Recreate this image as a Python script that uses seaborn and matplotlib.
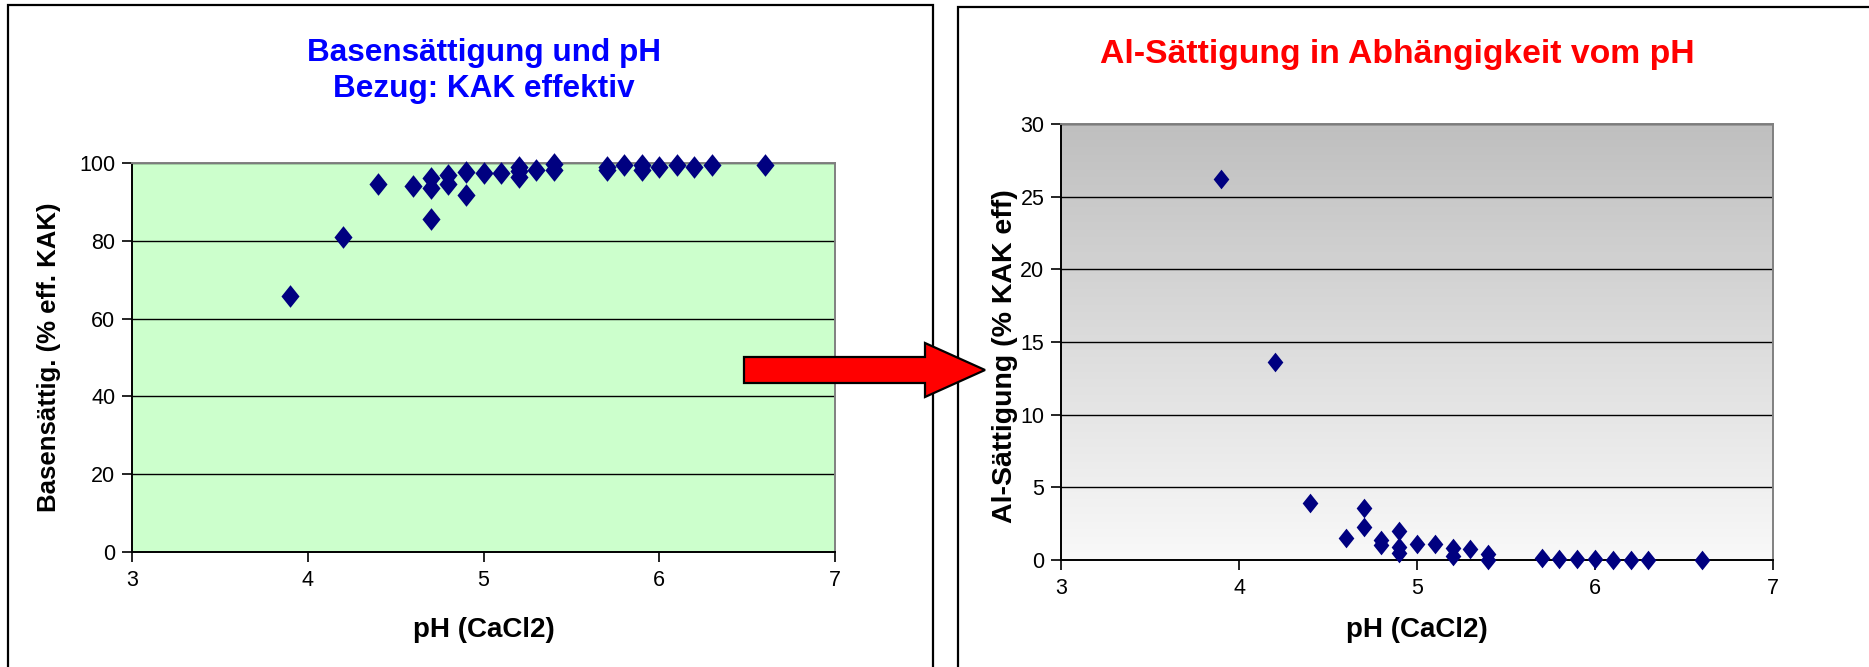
import numpy as np
import pandas as pd
import matplotlib
matplotlib.use("Agg")
import matplotlib.pyplot as plt
import seaborn as sns
from matplotlib.patches import Polygon, Rectangle
from matplotlib.colors import LinearSegmentedColormap

# ---------------- data ----------------
ph_base = [3.9, 4.2, 4.4, 4.6, 4.7, 4.7, 4.7, 4.8, 4.8, 4.9, 4.9, 5.0, 5.1,
           5.2, 5.2, 5.2, 5.3, 5.4, 5.4, 5.7, 5.7, 5.8, 5.9, 5.9, 6.0, 6.1,
           6.2, 6.3, 6.6]
base_sat = [65.7, 80.9, 94.6, 94.2, 96.1, 93.6, 85.6, 97.0, 94.6, 97.6, 91.8,
            97.4, 97.4, 99.1, 97.9, 96.4, 98.1, 99.7, 98.1, 99.1, 98.1, 99.6,
            99.4, 98.3, 99.1, 99.6, 99.1, 99.6, 99.6]

ph_al = [3.9, 4.2, 4.4, 4.6, 4.7, 4.7, 4.8, 4.8, 4.9, 4.9, 4.9, 5.0, 5.1,
         5.2, 5.2, 5.3, 5.4, 5.4, 5.7, 5.8, 5.9, 6.0, 6.1, 6.2, 6.3, 6.6]
al_sat = [26.2, 13.6, 3.9, 1.5, 3.6, 2.3, 1.4, 1.0, 2.0, 0.9, 0.5, 1.1, 1.1,
          0.8, 0.3, 0.75, 0.4, 0.0, 0.15, 0.1, 0.1, 0.05, 0.0, 0.0, 0.0, 0.0]

x_ticks = [3, 4, 5, 6, 7]
base_ticks = [0, 20, 40, 60, 80, 100]
al_ticks = [0, 5, 10, 15, 20, 25, 30]

title_left = "Basensättigung und pH\nBezug: KAK effektiv"
title_right = "Al-Sättigung in Abhängigkeit vom pH"
ylabel_left = "Basensättig. (% eff. KAK)"
ylabel_right = "Al-Sättigung (% KAK eff)"
xlabel = "pH (CaCl2)"

# ---------------- style ----------------
sns.set_theme(style="white")
plt.rcParams['font.family'] = ['Liberation Sans', 'DejaVu Sans']

W, H = 1869, 667
fig = plt.figure(figsize=(W / 100, H / 100), dpi=100)
fig.patch.set_facecolor("white")


def fy(py):
    return 1 - py / H


# panel frames
fig.patches.append(Rectangle((8 / W, fy(720)), (933 - 8) / W, (720 - 5) / H,
                             transform=fig.transFigure, fill=False,
                             edgecolor="black", lw=1.6, zorder=-1))
fig.patches.append(Rectangle((958 / W, fy(720)), (1950 - 958) / W, (720 - 7) / H,
                             transform=fig.transFigure, fill=False,
                             edgecolor="black", lw=1.6, zorder=-1))

ax1 = fig.add_axes([132 / W, fy(552), (835 - 132) / W, (552 - 163) / H])
ax2 = fig.add_axes([1061 / W, fy(560), (1773 - 1061) / W, (560 - 124) / H])

diamond = [(0, 1), (0.8, 0), (0, -1), (-0.8, 0)]
navy = "#000080"

df1 = pd.DataFrame({"ph": ph_base, "val": base_sat})
df2 = pd.DataFrame({"ph": ph_al, "val": al_sat})

sns.scatterplot(data=df1, x="ph", y="val", ax=ax1, marker=diamond, s=265,
                color=navy, linewidth=0, zorder=3, clip_on=False)
sns.scatterplot(data=df2, x="ph", y="val", ax=ax2, marker=diamond, s=200,
                color=navy, linewidth=0, zorder=3, clip_on=False)

# backgrounds
ax1.set_facecolor("#CCFFCC")
ax2.set_facecolor("#F8F8F8")
grad = np.linspace(0, 1, 256).reshape(-1, 1)
cmap = LinearSegmentedColormap.from_list("g", ["#BFBFBF", "#F9F9F9"])
ax2.imshow(grad, extent=[0, 1, 0, 1], transform=ax2.transAxes,
           aspect="auto", cmap=cmap, zorder=-1, origin="upper")

for ax, yt in ((ax1, base_ticks), (ax2, al_ticks)):
    ax.set_xlim(x_ticks[0], x_ticks[-1])
    ax.set_ylim(yt[0], yt[-1])
    ax.set_xticks(x_ticks)
    ax.set_yticks(yt)
    ax.set_aspect("auto")
    ax.yaxis.grid(True, color="black", lw=1.0)
    ax.xaxis.grid(False)
    ax.set_axisbelow(True)
    for s in ("left", "bottom"):
        ax.spines[s].set_color("black")
        ax.spines[s].set_linewidth(1.4)
    for s in ("top", "right"):
        ax.spines[s].set_color("#808080")
        ax.spines[s].set_linewidth(1.4)
    ax.tick_params(axis="both", direction="out", length=7, width=1.2,
                   color="black", labelsize=15.5, labelcolor="black",
                   bottom=True, left=True)
    ax.tick_params(axis="x", pad=6)
    ax.tick_params(axis="y", pad=5)
    ax.set_xlabel(xlabel, fontsize=20, fontweight="bold", color="black")

ax1.set_ylabel(ylabel_left, fontsize=18.5, fontweight="bold", color="black")
ax2.set_ylabel(ylabel_right, fontsize=20.5, fontweight="bold", color="black")
ax1.yaxis.set_label_coords(-0.101, 0.5)
ax2.yaxis.set_label_coords(-0.060, 0.468)
ax1.xaxis.set_label_coords(0.5, -0.167)
ax2.xaxis.set_label_coords(0.5, -0.131)

fig.text(484 / W, fy(71), title_left, ha="center", va="center",
         fontsize=22.7, fontweight="bold", color="#0000FF", linespacing=1.25)
fig.text(1397 / W, fy(55), title_right, ha="center", va="center",
         fontsize=24.3, fontweight="bold", color="#FF0000")

# red arrow between the panels
arrow_px = [(744, 357), (925, 357), (925, 343), (985, 370), (925, 397),
            (925, 383), (744, 383)]
fig.patches.append(Polygon([(x / W, fy(y)) for x, y in arrow_px], closed=True,
                           transform=fig.transFigure, facecolor="#FF0000",
                           edgecolor="black", lw=1.6, zorder=10))

fig.savefig("out.png", dpi=100)
